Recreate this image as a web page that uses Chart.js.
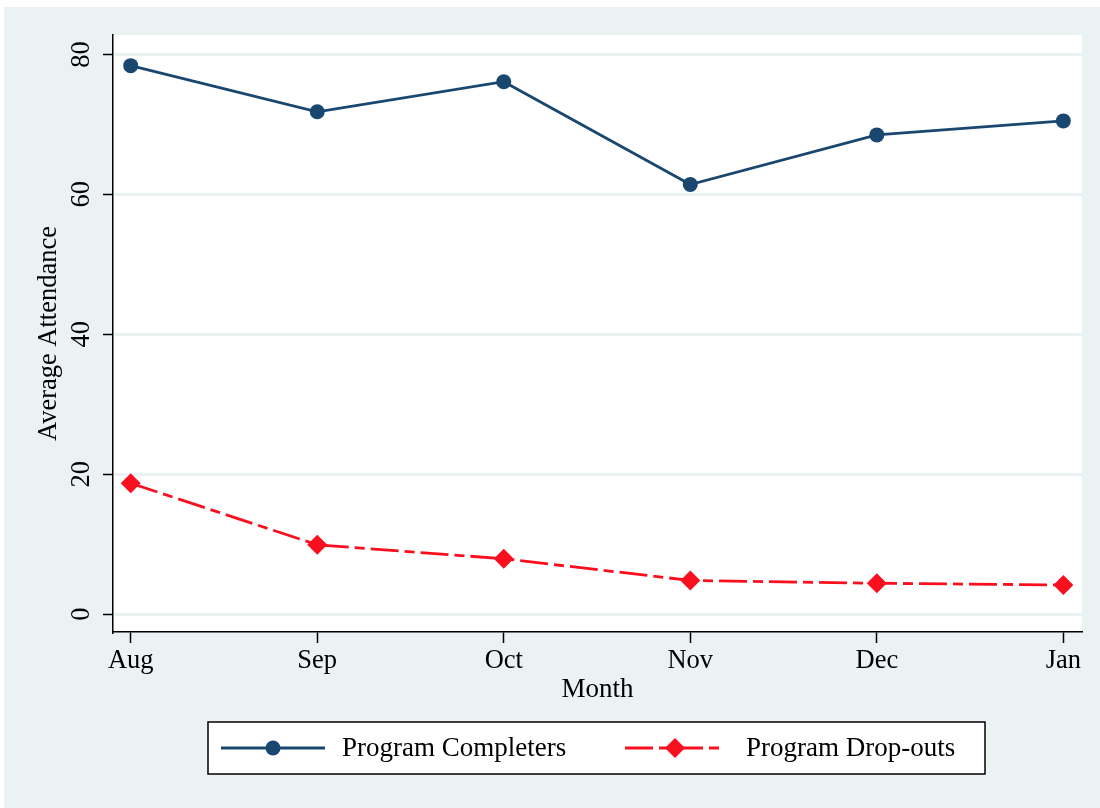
<!DOCTYPE html>
<html>
<head>
<meta charset="utf-8">
<script src="https://cdn.jsdelivr.net/npm/chart.js@4.4.0/dist/chart.umd.min.js"></script>
<style>
  html, body { margin: 0; padding: 0; background: #fff; }
  #wrap { position: absolute; left: 4px; top: 7px; width: 1096px; height: 801px; background: #eaf2f3; }
</style>
</head>
<body>
<div id="wrap"><canvas id="grafica" width="1096" height="801"></canvas></div>
<script>
/* ===============================
   DATOS
=============================== */
const meses = ["Aug", "Sep", "Oct", "Nov", "Dec", "Jan"];
const completers = [78.4, 71.8, 76.1, 61.4, 68.5, 70.5];
const dropouts = [18.7, 9.9, 7.9, 4.8, 4.4, 4.15];
const yTicks = [0, 20, 40, 60, 80];
const nombres = ["Program Completers", "Program Drop-outs"];

const AZUL = "#1a476f";
const ROJO = "#f90f1e";
const FONDO = "#eaf2f3";
const FUENTE = "'Liberation Serif', 'Times New Roman', serif";

/* ===============================
   PLUGINS
=============================== */
const fondoPlot = {
  id: "fondoPlot",
  beforeDraw(chart) {
    const { ctx, chartArea: a } = chart;
    ctx.save();
    ctx.fillStyle = "#fff";
    ctx.fillRect(a.left, a.top, a.right - a.left, a.bottom - a.top);
    ctx.restore();
  }
};

// leyenda con recuadro, estilo Stata
const leyenda = {
  id: "leyenda",
  afterDraw(chart) {
    const ctx = chart.ctx;
    const caja = { x: 204, y: 715, w: 777, h: 52 };
    const yc = caja.y + caja.h / 2;
    const items = [
      { x0: 217, x1: 321, tx: 338 },
      { x0: 621, x1: 721, tx: 742 }
    ];
    ctx.save();
    ctx.fillStyle = "#fff";
    ctx.fillRect(caja.x, caja.y, caja.w, caja.h);
    ctx.strokeStyle = "#000";
    ctx.lineWidth = 1.5;
    ctx.strokeRect(caja.x, caja.y, caja.w, caja.h);

    chart.data.datasets.forEach((ds, i) => {
      const it = items[i];
      ctx.strokeStyle = ds.borderColor;
      ctx.lineWidth = ds.borderWidth;
      ctx.setLineDash(ds.borderDash || []);
      ctx.beginPath();
      ctx.moveTo(it.x0, yc);
      ctx.lineTo(it.x1, yc);
      ctx.stroke();
      ctx.setLineDash([]);

      const xm = (it.x0 + it.x1) / 2;
      const r = ds.pointRadius;
      ctx.fillStyle = ds.pointBackgroundColor;
      ctx.beginPath();
      if (ds.pointStyle === "rectRot") {
        ctx.moveTo(xm, yc - r);
        ctx.lineTo(xm + r, yc);
        ctx.lineTo(xm, yc + r);
        ctx.lineTo(xm - r, yc);
        ctx.closePath();
      } else {
        ctx.arc(xm, yc, r, 0, Math.PI * 2);
      }
      ctx.fill();

      ctx.fillStyle = "#000";
      ctx.font = "27px " + FUENTE;
      ctx.textBaseline = "middle";
      ctx.textAlign = "left";
      ctx.fillText(ds.label, it.tx, yc + 1);
    });
    ctx.restore();
  }
};

/* ===============================
   GRAFICA
=============================== */
new Chart(document.getElementById("grafica"), {
  type: "line",
  data: {
    datasets: [
      {
        label: nombres[0],
        data: completers.map((v, i) => ({ x: i, y: v })),
        borderColor: AZUL,
        borderWidth: 2.8,
        pointStyle: "circle",
        pointRadius: 7.5,
        pointBackgroundColor: AZUL,
        pointBorderWidth: 0,
        tension: 0
      },
      {
        label: nombres[1],
        data: dropouts.map((v, i) => ({ x: i, y: v })),
        borderColor: ROJO,
        borderWidth: 2.8,
        borderDash: [28, 6, 10, 6],
        pointStyle: "rectRot",
        pointRadius: 10,
        pointBackgroundColor: ROJO,
        pointBorderWidth: 0,
        tension: 0
      }
    ]
  },
  options: {
    responsive: false,
    animation: false,
    layout: { padding: { left: 0, top: 28, right: 18, bottom: 96 } },
    plugins: {
      legend: { display: false },
      tooltip: { enabled: false }
    },
    scales: {
      x: {
        type: "linear",
        min: -0.095,
        max: 5.1,
        afterBuildTicks: (s) => { s.ticks = meses.map((m, i) => ({ value: i })); },
        afterFit: (s) => { s.height = 80; },
        grid: { drawOnChartArea: false, drawTicks: true, tickColor: "#000", tickLength: 11, tickWidth: 1.5 },
        border: { display: true, color: "#000", width: 1.5 },
        ticks: {
          padding: 2,
          color: "#000",
          font: { family: FUENTE, size: 26.5 },
          maxRotation: 0,
          autoSkip: false,
          callback: (v) => meses[v]
        },
        title: {
          display: true,
          text: "Month",
          color: "#000",
          font: { family: FUENTE, size: 27 },
          padding: { top: 0, bottom: 6 }
        }
      },
      y: {
        min: -2.57,
        max: 82.78,
        afterBuildTicks: (s) => { s.ticks = yTicks.map((v) => ({ value: v })); },
        afterFit: (s) => { s.width = 109; },
        grid: { color: FONDO, lineWidth: 3, drawTicks: true, tickColor: "#000", tickLength: 10, tickWidth: 1.5 },
        border: { display: true, color: "#000", width: 1.5 },
        ticks: {
          padding: 8,
          color: "#000",
          font: { family: FUENTE, size: 26.5 },
          minRotation: 90,
          maxRotation: 90,
          crossAlign: "center"
        },
        title: {
          display: true,
          text: "Average Attendance",
          color: "#000",
          font: { family: FUENTE, size: 26.5 },
          padding: { top: 29, bottom: 0 }
        }
      }
    }
  },
  plugins: [fondoPlot, leyenda]
});
</script>
</body>
</html>
